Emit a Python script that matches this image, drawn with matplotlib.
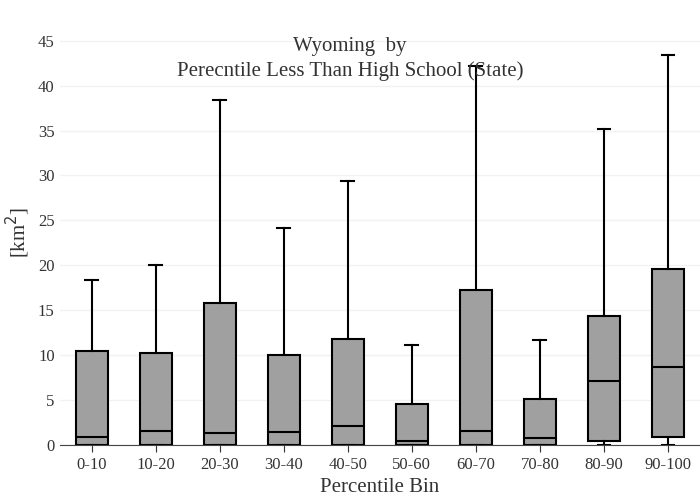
import matplotlib.pyplot as plt

bins = ['0-10', '10-20', '20-30', '30-40', '40-50', '50-60', '60-70', '70-80', '80-90', '90-100']
q1 = [0.0, 0.0, 0.0, 0.0, 0.0, 0.0, 0.0, 0.0, 0.4, 0.9]
med = [0.9, 1.55, 1.3, 1.45, 2.1, 0.4, 1.55, 0.8, 7.1, 8.7]
q3 = [10.5, 10.25, 15.8, 10.0, 11.8, 4.55, 17.3, 5.1, 14.4, 19.6]
whislo = [0.0] * 10
whishi = [18.4, 20.0, 38.4, 24.2, 29.4, 11.1, 42.2, 11.7, 35.2, 43.4]

plt.rcParams['font.family'] = ['Liberation Serif', 'DejaVu Serif']

stats = []
for i in range(len(bins)):
    stats.append({'q1': q1[i], 'med': med[i], 'q3': q3[i],
                  'whislo': whislo[i], 'whishi': whishi[i], 'fliers': []})

fig = plt.figure(figsize=(7, 5), dpi=100)
ax = fig.add_axes([0.085, 0.11, 0.915, 0.85])
ax.bxp(stats, positions=range(len(bins)), widths=0.5, capwidths=0.2,
       patch_artist=True, showfliers=False,
       boxprops=dict(facecolor='#a0a0a0', edgecolor='black', linewidth=1.5),
       medianprops=dict(color='black', linewidth=1.5),
       whiskerprops=dict(color='black', linewidth=1.5),
       capprops=dict(color='black', linewidth=1.5))

ax.set_xlim(-0.5, 9.5)
ax.set_ylim(0, 47.3)
ax.set_yticks(range(0, 46, 5))
ax.set_xticks(range(len(bins)))
ax.set_xticklabels(bins)
ax.grid(axis='y', color='#f2f2f2', linewidth=1)
ax.set_axisbelow(True)
for s in ['top', 'right', 'left']:
    ax.spines[s].set_visible(False)
ax.spines['bottom'].set_color('#444444')
ax.tick_params(axis='both', length=0, labelsize=12, colors='#333333')
ax.tick_params(axis='x', length=5)
ax.set_xlabel('Percentile Bin', fontsize=15, color='#333333')
ax.set_ylabel('[km$^2$]', fontsize=15, color='#333333')
fig.text(0.5, 0.882, 'Wyoming  by\nPerecntile Less Than High School (State)',
         ha='center', va='center', fontsize=15, color='#333333', linespacing=1.4)
fig.savefig('out.png')
